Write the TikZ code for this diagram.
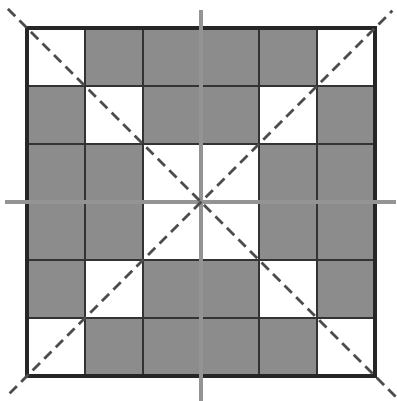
\documentclass[tikz,border=0pt]{standalone}
\begin{document}
\begin{tikzpicture}[x=1cm,y=1cm]
\useasboundingbox (-0.467,-0.432) rectangle (6.363,6.484);
\foreach \i/\j in {1/5,2/5,3/5,4/5,0/4,2/4,3/4,5/4,0/3,1/3,4/3,5/3,0/2,1/2,4/2,5/2,0/1,2/1,3/1,5/1,1/0,2/0,3/0,4/0}
  \fill[black!45] (\i,\j) rectangle (\i+1,\j+1);
\foreach \i in {1,...,5} { \draw[black!80,line width=0.7pt] (\i,0) -- (\i,6); \draw[black!80,line width=0.7pt] (0,\i) -- (6,\i); }
\draw[black!85,line width=2pt] (0,0) rectangle (6,6);
\draw[black!42,line width=2pt] (3,-0.432) -- (3,6.31);
\draw[black!42,line width=2pt] (-0.38,3) -- (6.363,3);
\draw[black!70,line width=1.3pt,dash pattern=on 5pt off 3pt] (-0.33,6.33) -- (6.36,-0.36);
\draw[black!70,line width=1.3pt,dash pattern=on 5pt off 3pt] (-0.3,-0.3) -- (6.3,6.3);
\end{tikzpicture}
\end{document}
